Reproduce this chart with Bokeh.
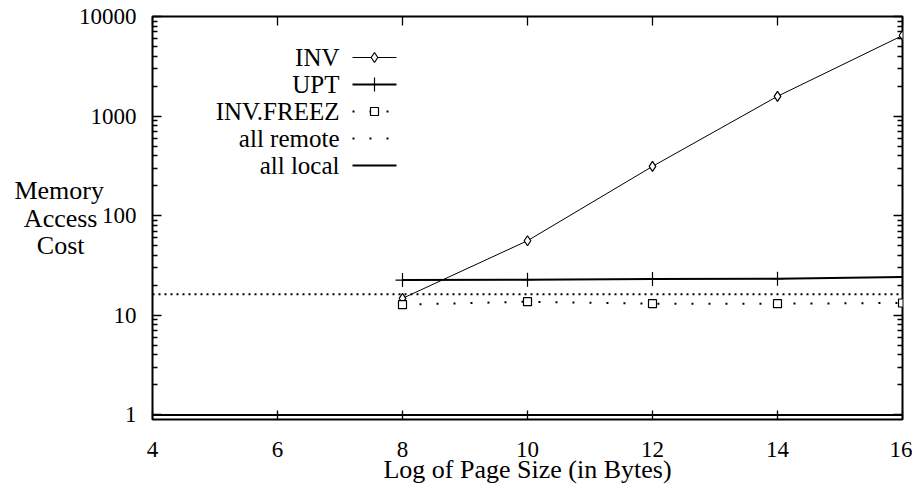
import math
from bokeh.plotting import figure
from bokeh.models import Range1d, FixedTicker, LinearAxis, LogAxis, Span
from bokeh.core.properties import value
from bokeh.embed import file_html
from bokeh.resources import INLINE

# ---- data ----
page_log = [8, 10, 12, 14, 16]
inv = [14.8, 56.1, 313, 1581, 6442]
upt = [22.6, 22.8, 23.1, 23.3, 24.2]
inv_freez = [12.8, 13.7, 13.1, 13.1, 13.3]
all_remote = 16.3
all_local = 1.0

x_ticks = [4, 6, 8, 10, 12, 14, 16]
y_ticks = [1, 10, 100, 1000, 10000]
y_tick_labels = ["1", "10", "100", "1000", "10000"]
y_minor = [m * 10 ** k for k in range(4) for m in range(2, 10)]
legend_labels = ["INV", "UPT", "INV.FREEZ", "all remote", "all local"]
NB = "\u00a0"
y_label = "Memory\nAccess" + NB + "\nCost" + NB * 3
x_label = "Log of Page Size (in Bytes)"

X_MIN, X_MAX = 4, 16
Y_MIN, Y_MAX = 0.9, 10000
FRAME_W, FRAME_H = 750, 403
FONT = "serif"
TICK_FONT = "Liberation Serif"

p = figure(width=912, height=490, x_range=Range1d(X_MIN, X_MAX),
           y_range=Range1d(Y_MIN, Y_MAX), y_axis_type="log",
           output_backend="svg", toolbar_location=None,
           min_border_left=152, min_border_right=10,
           min_border_top=16, min_border_bottom=71)
p.grid.visible = False
p.outline_line_color = "black"
p.outline_line_width = 2
p.background_fill_color = "white"
p.border_fill_color = "white"

xt = FixedTicker(ticks=x_ticks)
yt = FixedTicker(ticks=y_ticks, minor_ticks=y_minor)


def style_axis(ax, labels=True):
    ax.axis_line_color = None
    ax.major_tick_in = 9
    ax.major_tick_out = 0
    ax.minor_tick_in = 5
    ax.minor_tick_out = 0
    ax.major_tick_line_color = "black"
    ax.minor_tick_line_color = "black"
    ax.major_tick_line_width = 1.3
    ax.minor_tick_line_width = 1.3
    ax.major_label_text_font = TICK_FONT
    if labels:
        ax.major_label_text_font_size = "23px"
        ax.major_label_text_color = "black"
    else:
        ax.major_label_text_font_size = "1px"
        ax.major_label_text_alpha = 0
        ax.major_label_standoff = 0


p.xaxis.ticker = xt
p.yaxis.ticker = yt
p.yaxis.major_label_overrides = {t: s for t, s in zip(y_ticks, y_tick_labels)}
style_axis(p.xaxis[0])
style_axis(p.yaxis[0])
p.xaxis.minor_tick_in = 0
p.xaxis.major_label_standoff = 22
p.yaxis.major_label_standoff = 16
p.xaxis.axis_label = x_label
p.xaxis.axis_label_text_font = FONT
p.xaxis.axis_label_text_font_size = "26px"
p.xaxis.axis_label_text_font_style = "normal"
p.xaxis.axis_label_text_color = "black"
p.xaxis.axis_label_standoff = -5

p.yaxis.axis_label = y_label
p.yaxis.axis_label_text_font = FONT
p.yaxis.axis_label_text_font_size = "26px"
p.yaxis.axis_label_text_font_style = "normal"
p.yaxis.axis_label_text_color = "black"
p.yaxis.axis_label_text_align = "center"
p.yaxis.axis_label_text_line_height = 0.96
p.yaxis.axis_label_orientation = "horizontal"
p.yaxis.axis_label_standoff = -28

top_ax = LinearAxis(ticker=xt)
style_axis(top_ax, labels=False)
top_ax.minor_tick_in = 0
p.add_layout(top_ax, "above")
right_ax = LogAxis(ticker=yt)
style_axis(right_ax, labels=False)
p.add_layout(right_ax, "right")

# reference lines
p.add_layout(Span(location=all_local, dimension="width", line_color="black", line_width=2))
p.add_layout(Span(location=all_remote, dimension="width", line_color="black",
                  line_width=2, line_dash="2 4"))

# series
p.line(page_log, inv, line_color="black", line_width=1)
p.scatter(page_log, inv, marker="diamond", size=10, fill_color="white",
          line_color="black", line_width=1.2)
p.line(page_log, upt, line_color="black", line_width=2)
p.scatter(page_log, upt, marker="cross", size=14, line_color="black", line_width=1.2)
p.line(page_log, inv_freez, line_color="black", line_width=2, line_dash="2 15")
p.scatter(page_log, inv_freez, marker="square", size=8, fill_color="white",
          line_color="black", line_width=1.2)


# legend (gnuplot style: text right-aligned, sample on the right)
def fx(px):
    return X_MIN + px / FRAME_W * (X_MAX - X_MIN)


def fy(py):
    lo, hi = math.log10(Y_MIN), math.log10(Y_MAX)
    return 10 ** (lo + py / FRAME_H * (hi - lo))


rows = [362, 335, 308, 281, 254]
text_right, s0, s1, sm = 187, 200, 244, 222
styles = [
    dict(lw=1, dash="solid", marker="diamond", msize=10),
    dict(lw=2, dash="solid", marker="cross", msize=14),
    dict(lw=2, dash="2 15", marker="square", msize=8),
    dict(lw=2, dash="2 15", marker=None, msize=0),
    dict(lw=2, dash="solid", marker=None, msize=0),
]
p.text(x=[fx(text_right)] * len(rows), y=[fy(r) for r in rows], text=legend_labels,
       text_align="right", text_baseline="middle", text_font=value(FONT),
       text_font_size="25px", text_color="black")
for ry, st in zip(rows, styles):
    p.line([fx(s0), fx(s1)], [fy(ry), fy(ry)], line_color="black",
           line_width=st["lw"], line_dash=st["dash"])
    if st["marker"]:
        p.scatter([fx(sm)], [fy(ry)], marker=st["marker"], size=st["msize"],
                  fill_color="white", line_color="black", line_width=1.2)

open("out.html", "w").write(file_html(p, INLINE))
